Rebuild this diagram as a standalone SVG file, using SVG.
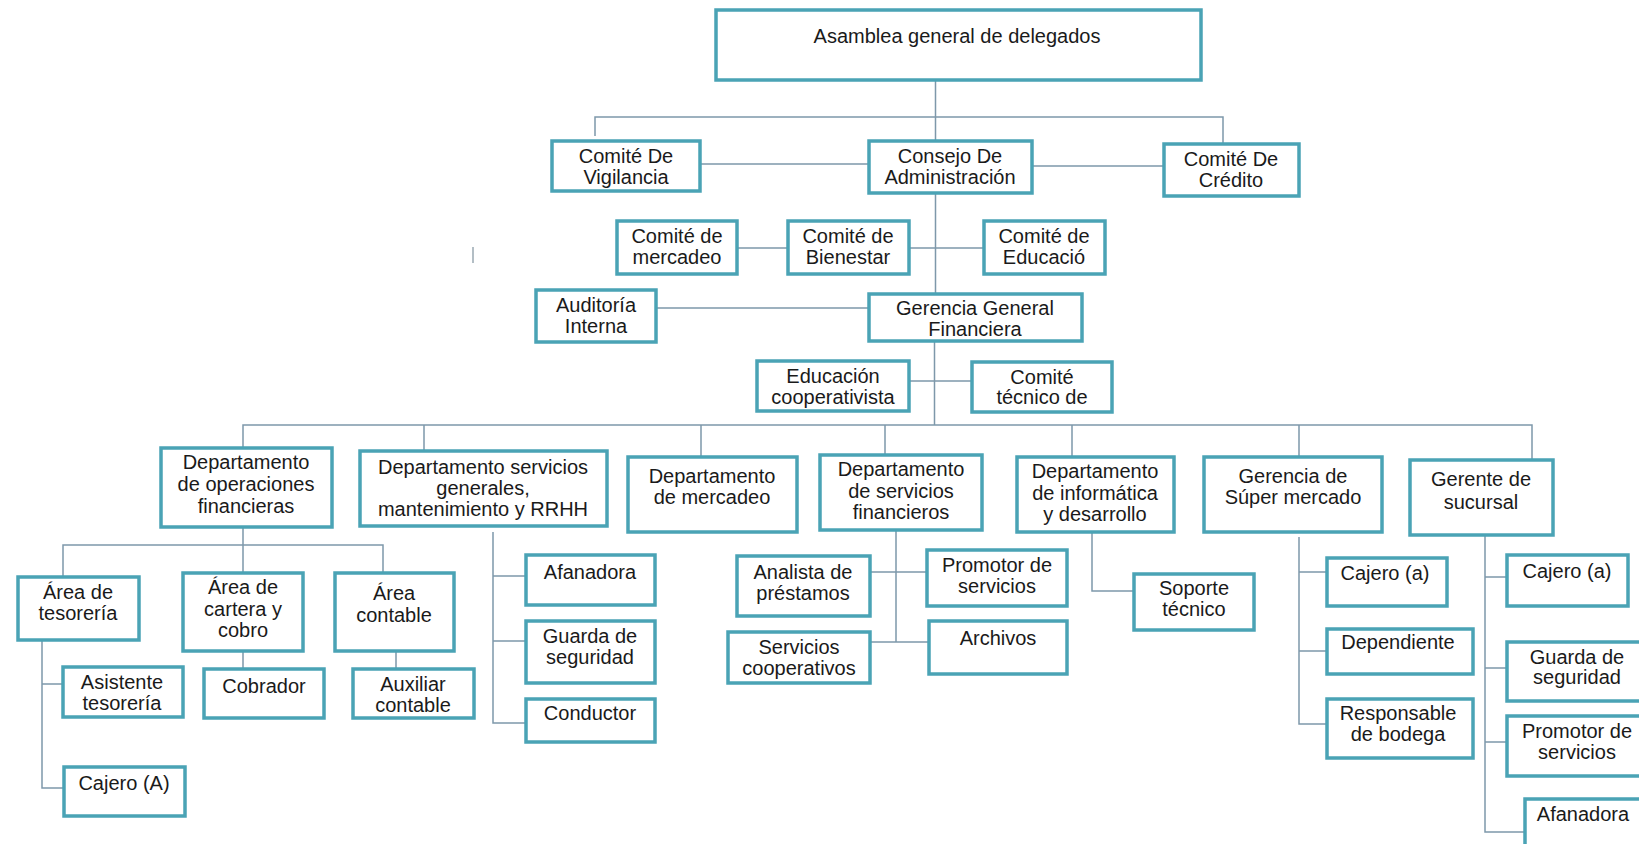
<svg xmlns="http://www.w3.org/2000/svg" width="1639" height="844" viewBox="0 0 1639 844">
<style>
.box{fill:#ffffff;stroke:#4aa3b5;stroke-width:3.5}
.t{font-family:"Liberation Sans",Arial,sans-serif;font-size:20px;fill:#1a1a1a;text-anchor:middle}
.c{fill:none;stroke:#7e98aa;stroke-width:1.5}
</style>
<rect width="1639" height="844" fill="#ffffff"/>
<g id="connectors" class="c">
<path d="M935.5 81V140M595 136V117H1223V143M701 164H868M1033 166H1163M935.5 194V293M738 248H787M910 248H983M657 308H868M934.5 342V425M910 381H971"/>
<path d="M243 447V425H1532V459M424 425V450M701 425V456M885 425V454M1072 425V456M1299 425V456"/>
<path d="M243 528V572M63 576V545H383V572M42 641V788H63M42 684H62M243 652V668M396 652V668"/>
<path d="M493 532V723H525M493 576H525M493 641H525"/>
<path d="M896 531V642M871 572H926M871 642H928"/>
<path d="M1092 533V591H1133"/>
<path d="M1299 537V724H1326M1299 572H1326M1299 651H1326"/>
<path d="M1485 536V832H1525M1485 577H1506M1485 668H1506M1485 742H1506"/>
<path d="M473 247V263" stroke="#9aa8b2"/>
</g>
<g id="asamblea"><rect class="box" x="716" y="10" width="485" height="70"/><text class="t" x="957" y="43">Asamblea general de delegados</text></g>
<g id="vigilancia"><rect class="box" x="552" y="141" width="148" height="50"/><text class="t" x="626" y="163">Comité De</text><text class="t" x="626" y="184">Vigilancia</text></g>
<g id="consejo"><rect class="box" x="869" y="141" width="163" height="52"/><text class="t" x="950" y="163">Consejo De</text><text class="t" x="950" y="184">Administración</text></g>
<g id="credito"><rect class="box" x="1164" y="144" width="135" height="52"/><text class="t" x="1231" y="166">Comité De</text><text class="t" x="1231" y="187">Crédito</text></g>
<g id="comite-mercadeo"><rect class="box" x="617" y="221" width="120" height="53"/><text class="t" x="677" y="243">Comité de</text><text class="t" x="677" y="264">mercadeo</text></g>
<g id="bienestar"><rect class="box" x="788" y="221" width="121" height="53"/><text class="t" x="848" y="243">Comité de</text><text class="t" x="848" y="264">Bienestar</text></g>
<g id="educacio"><rect class="box" x="984" y="221" width="121" height="53"/><text class="t" x="1044" y="243">Comité de</text><text class="t" x="1044" y="264">Educació</text></g>
<g id="auditoria"><rect class="box" x="536" y="290" width="120" height="52"/><text class="t" x="596" y="312">Auditoría</text><text class="t" x="596" y="333">Interna</text></g>
<g id="gerencia"><rect class="box" x="869" y="294" width="213" height="47"/><text class="t" x="975" y="315">Gerencia General</text><text class="t" x="975" y="336">Financiera</text></g>
<g id="educacion-coop"><rect class="box" x="757" y="361" width="152" height="50"/><text class="t" x="833" y="383">Educación</text><text class="t" x="833" y="404">cooperativista</text></g>
<g id="comite-tecnico"><rect class="box" x="972" y="362" width="140" height="50"/><text class="t" x="1042" y="384">Comité</text><text class="t" x="1042" y="404">técnico de</text></g>
<g id="dept-operaciones"><rect class="box" x="161" y="448" width="171" height="79"/><text class="t" x="246" y="469">Departamento</text><text class="t" x="246" y="491">de operaciones</text><text class="t" x="246" y="513">financieras</text></g>
<g id="dept-servicios-generales"><rect class="box" x="360" y="451" width="247" height="75"/><text class="t" x="483" y="474">Departamento servicios</text><text class="t" x="483" y="495">generales,</text><text class="t" x="483" y="516">mantenimiento y RRHH</text></g>
<g id="dept-mercadeo"><rect class="box" x="628" y="457" width="169" height="75"/><text class="t" x="712" y="483">Departamento</text><text class="t" x="712" y="504">de mercadeo</text></g>
<g id="dept-financieros"><rect class="box" x="820" y="455" width="162" height="75"/><text class="t" x="901" y="476">Departamento</text><text class="t" x="901" y="498">de servicios</text><text class="t" x="901" y="519">financieros</text></g>
<g id="dept-informatica"><rect class="box" x="1017" y="457" width="157" height="75"/><text class="t" x="1095" y="478">Departamento</text><text class="t" x="1095" y="500">de informática</text><text class="t" x="1095" y="521">y desarrollo</text></g>
<g id="gerencia-super"><rect class="box" x="1204" y="457" width="178" height="75"/><text class="t" x="1293" y="483">Gerencia de</text><text class="t" x="1293" y="504">Súper mercado</text></g>
<g id="gerente-sucursal"><rect class="box" x="1410" y="460" width="143" height="75"/><text class="t" x="1481" y="486">Gerente de</text><text class="t" x="1481" y="509">sucursal</text></g>
<g id="area-tesoreria"><rect class="box" x="18" y="577" width="121" height="63"/><text class="t" x="78" y="599">Área de</text><text class="t" x="78" y="620">tesorería</text></g>
<g id="area-cartera"><rect class="box" x="183" y="573" width="120" height="78"/><text class="t" x="243" y="594">Área de</text><text class="t" x="243" y="616">cartera y</text><text class="t" x="243" y="637">cobro</text></g>
<g id="area-contable"><rect class="box" x="335" y="573" width="119" height="78"/><text class="t" x="394" y="600">Área</text><text class="t" x="394" y="622">contable</text></g>
<g id="asistente"><rect class="box" x="63" y="667" width="120" height="50"/><text class="t" x="122" y="689">Asistente</text><text class="t" x="122" y="710">tesorería</text></g>
<g id="cajero-A"><rect class="box" x="64" y="767" width="121" height="49"/><text class="t" x="124" y="790">Cajero (A)</text></g>
<g id="cobrador"><rect class="box" x="204" y="669" width="120" height="49"/><text class="t" x="264" y="693">Cobrador</text></g>
<g id="auxiliar"><rect class="box" x="353" y="669" width="121" height="49"/><text class="t" x="413" y="691">Auxiliar</text><text class="t" x="413" y="712">contable</text></g>
<g id="afanadora-1"><rect class="box" x="526" y="555" width="129" height="50"/><text class="t" x="590" y="579">Afanadora</text></g>
<g id="guarda-1"><rect class="box" x="526" y="621" width="129" height="62"/><text class="t" x="590" y="643">Guarda de</text><text class="t" x="590" y="664">seguridad</text></g>
<g id="conductor"><rect class="box" x="526" y="699" width="129" height="43"/><text class="t" x="590" y="720">Conductor</text></g>
<g id="analista"><rect class="box" x="737" y="556" width="133" height="60"/><text class="t" x="803" y="579">Analista de</text><text class="t" x="803" y="600">préstamos</text></g>
<g id="servicios-coop"><rect class="box" x="728" y="632" width="142" height="51"/><text class="t" x="799" y="654">Servicios</text><text class="t" x="799" y="675">cooperativos</text></g>
<g id="promotor-1"><rect class="box" x="927" y="550" width="140" height="56"/><text class="t" x="997" y="572">Promotor de</text><text class="t" x="997" y="593">servicios</text></g>
<g id="archivos"><rect class="box" x="929" y="621" width="138" height="53"/><text class="t" x="998" y="645">Archivos</text></g>
<g id="soporte"><rect class="box" x="1134" y="574" width="120" height="56"/><text class="t" x="1194" y="595">Soporte</text><text class="t" x="1194" y="616">técnico</text></g>
<g id="cajero-a-1"><rect class="box" x="1327" y="558" width="120" height="48"/><text class="t" x="1385" y="580">Cajero (a)</text></g>
<g id="dependiente"><rect class="box" x="1327" y="629" width="146" height="45"/><text class="t" x="1398" y="649">Dependiente</text></g>
<g id="responsable"><rect class="box" x="1327" y="699" width="146" height="59"/><text class="t" x="1398" y="720">Responsable</text><text class="t" x="1398" y="741">de bodega</text></g>
<g id="cajero-a-2"><rect class="box" x="1507" y="555" width="121" height="51"/><text class="t" x="1567" y="578">Cajero (a)</text></g>
<g id="guarda-2"><rect class="box" x="1507" y="642" width="140" height="59"/><text class="t" x="1577" y="664">Guarda de</text><text class="t" x="1577" y="684">seguridad</text></g>
<g id="promotor-2"><rect class="box" x="1507" y="716" width="140" height="60"/><text class="t" x="1577" y="738">Promotor de</text><text class="t" x="1577" y="759">servicios</text></g>
<g id="afanadora-2"><rect class="box" x="1525" y="799" width="135" height="60"/><text class="t" x="1583" y="821">Afanadora</text></g>
</svg>
